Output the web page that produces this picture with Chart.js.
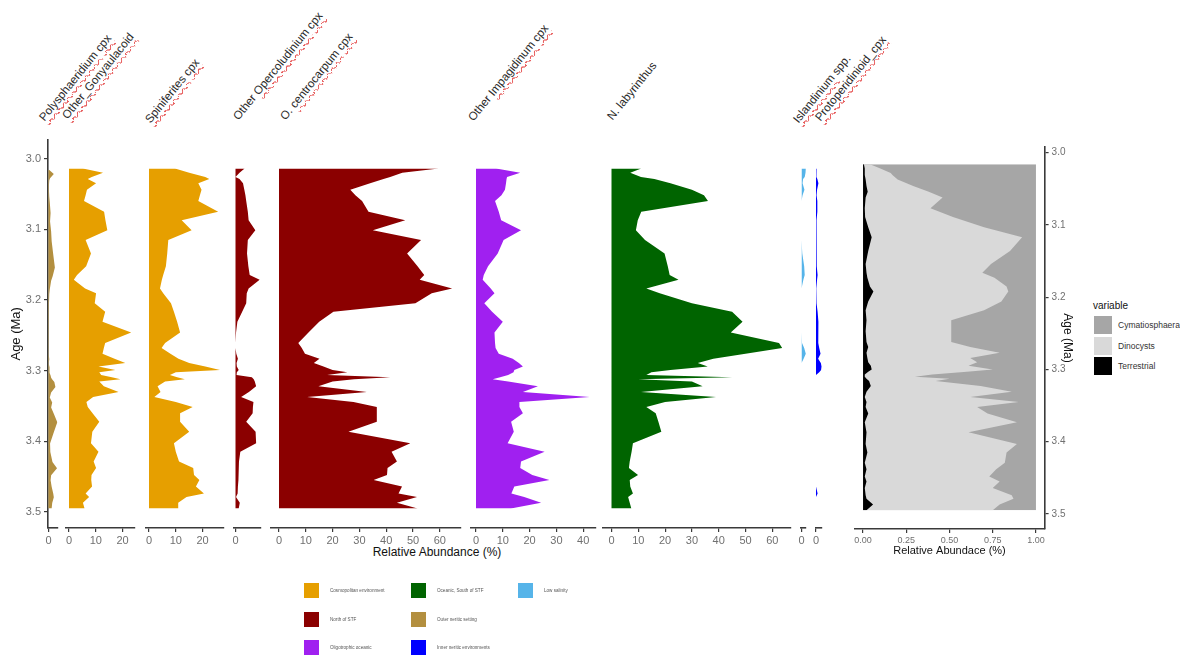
<!DOCTYPE html>
<html>
<head>
<meta charset="utf-8">
<title>Dinocyst assemblages</title>
<script src="https://cdn.jsdelivr.net/npm/chart.js@4.4.1/dist/chart.umd.min.js"></script>
<style>
  body { margin: 0; background: #fff; font-family: "Liberation Sans", Arial, sans-serif; }
  #page { position: relative; width: 1180px; height: 660px; overflow: hidden; }
  #page canvas { position: absolute; }
  .tax { position: absolute; white-space: nowrap; font-size: 11.6px; line-height: 13px; height: 13px; color: #2a2a2a;
         transform-origin: 0 100%; transform: rotate(-51deg); }
  .sp { text-decoration: underline wavy #e23b3b; text-decoration-thickness: 1px; text-underline-offset: 2px; }
  .lbl { position: absolute; white-space: nowrap; color: #111; }
  .key { position: absolute; }
</style>
</head>
<body>
<div id="page">
  <!-- titres des taxons, inclinés -->
  <div class="tax" style="left:46px;top:110px"><span class="sp">Polysphaeridium</span> <span class="sp">cpx</span></div>
  <div class="tax" style="left:69px;top:108px"><span class="sp">Other_Gonyaulacoid</span></div>
  <div class="tax" style="left:152px;top:112px"><span class="sp">Spiniferites</span> <span class="sp">cpx</span></div>
  <div class="tax" style="left:240px;top:109px">Other <span class="sp">Opercoludinium</span> <span class="sp">cpx</span></div>
  <div class="tax" style="left:287px;top:109px">O. <span class="sp">centrocarpum</span> <span class="sp">cpx</span></div>
  <div class="tax" style="left:475px;top:110px">Other <span class="sp">Impagidinum</span> <span class="sp">cpx</span></div>
  <div class="tax" style="left:614px;top:109px">N. labyrinthus</div>
  <div class="tax" style="left:800px;top:112px"><span class="sp">Islandinium</span> spp.</div>
  <div class="tax" style="left:822px;top:110px"><span class="sp">Protoperidinioid_cpx</span></div>

  <div class="lbl" style="left:437px;top:545px;font-size:12px;transform:translateX(-50%)">Relative Abundance (%)</div>
  <div class="lbl" style="left:1093px;top:300px;font-size:10px">variable</div>
</div>

<script>
// Ages des échantillons (Ma)
const ages = [3.016, 3.022, 3.028, 3.031, 3.037, 3.046, 3.054, 3.062, 3.077, 3.089,
  3.103, 3.117, 3.136, 3.154, 3.166, 3.173, 3.185, 3.192, 3.206, 3.218,
  3.232, 3.247, 3.262, 3.269, 3.277, 3.284, 3.290, 3.295, 3.300, 3.303,
  3.307, 3.310, 3.313, 3.316, 3.323, 3.331, 3.338, 3.345, 3.352, 3.361,
  3.373, 3.387, 3.403, 3.415, 3.429, 3.438, 3.448, 3.455, 3.464, 3.474,
  3.479, 3.487, 3.495];

// Abondances relatives (%) par taxon
const polysphaeridium = [0.2, 2.0, 0.6, 0.3, 0.2, 0.2, 0.3, 0.5, 0.8, 0.6,
  1.0, 1.2, 1.8, 2.4, 1.6, 1.0, 0.5, 0.3, 0.2, 0.1,
  0.1, 0.1, 0.1, 0.2, 0.1, 0.3, 0.1, 0.4, 0.3, 0.5,
  0.8, 1.0, 1.5, 2.2, 2.6, 1.0, 0.5, 1.4, 1.0, 2.0,
  3.3, 2.0, 0.6, 0.7, 1.5, 3.2, 1.0, 0.8, 1.2, 1.8,
  2.0, 1.4, 1.2];
const gonyaulacoid = [5.2, 12.7, 8.5, 7.0, 10.1, 6.7, 6.2, 5.6, 13.1, 13.6,
  14.3, 6.2, 8.2, 6.4, 3.0, 1.8, 6.0, 10.1, 9.6, 13.5,
  12.5, 23.2, 13.5, 13.0, 12.5, 17.0, 21.0, 11.0, 17.3, 11.3,
  12.0, 16.0, 19.2, 11.3, 13.0, 18.5, 9.0, 6.5, 7.0, 8.8,
  11.3, 8.7, 8.2, 11.0, 9.2, 10.1, 8.4, 8.3, 8.6, 6.2,
  7.5, 5.2, 5.8];
const spiniferites = [9.7, 15.0, 21.0, 22.5, 18.4, 19.6, 19.0, 18.4, 25.8, 12.2,
  15.9, 7.2, 6.8, 6.3, 5.3, 4.8, 4.1, 5.3, 8.2, 9.3,
  10.5, 11.6, 6.0, 4.7, 8.0, 11.0, 15.0, 21.0, 26.5, 10.0,
  7.8, 10.5, 13.4, 6.0, 3.2, 4.3, 2.0, 10.0, 16.3, 11.6,
  11.6, 15.0, 9.3, 10.0, 11.2, 16.5, 16.8, 18.8, 17.5, 20.5,
  14.0, 10.9, 10.9];
const operculodinium = [3.4, 1.5, 0.0, 1.5, 2.8, 3.3, 3.7, 4.0, 4.6, 4.9,
  7.4, 4.6, 4.3, 4.8, 5.3, 9.0, 4.9, 4.2, 4.0, 2.5,
  0.7, 0.2, 0.0, 0.0, 0.3, 0.9, 0.4, 0.5, 1.2, 0.5,
  0.4, 6.1, 6.8, 7.2, 7.7, 5.0, 2.1, 6.7, 6.5, 6.4,
  4.0, 7.5, 7.7, 1.8, 1.3, 1.2, 1.1, 1.0, 0.9, 0.8,
  0.2, 1.6, 1.2];
const centrocarpum = [59.6, 46.0, 41.5, 39.0, 34.0, 26.6, 28.5, 31.0, 33.4, 47.1,
  35.0, 53.0, 47.8, 51.7, 54.2, 52.5, 64.6, 57.0, 50.9, 20.3,
  15.0, 11.0, 7.2, 8.5, 9.7, 15.1, 13.0, 16.6, 20.0, 25.5,
  18.0, 41.5, 28.0, 20.0, 14.7, 32.8, 10.5, 27.8, 36.5, 36.5,
  36.5, 25.9, 49.0, 42.0, 44.0, 40.5, 40.3, 35.3, 45.9, 44.6,
  51.5, 44.0, 51.7];
const impagidinum = [7.5, 16.5, 11.6, 11.4, 11.2, 10.8, 9.5, 7.1, 8.5, 9.4,
  16.8, 10.3, 8.1, 4.5, 2.9, 2.5, 5.5, 6.9, 3.1, 6.0,
  10.0, 6.9, 7.1, 7.3, 8.5, 13.7, 16.0, 17.5, 14.3, 14.0,
  12.0, 9.0, 6.2, 12.0, 23.1, 17.5, 42.4, 16.2, 16.2, 17.5,
  13.1, 14.1, 11.8, 25.6, 16.8, 16.5, 21.0, 27.4, 14.3, 13.2,
  18.0, 24.3, 13.0];
const labyrinthus = [11.1, 7.0, 11.0, 16.0, 22.0, 30.0, 34.5, 36.0, 11.1, 9.8,
  9.1, 12.5, 19.8, 21.0, 21.7, 25.0, 13.0, 18.0, 30.0, 45.0,
  48.9, 44.5, 62.5, 63.7, 50.0, 38.0, 32.2, 35.9, 22.0, 14.9,
  13.0, 45.0, 9.9, 30.0, 34.0, 11.0, 39.0, 20.0, 13.0, 16.5,
  17.5, 18.6, 8.0, 7.5, 6.8, 6.5, 9.9, 6.8, 7.0, 8.0,
  6.2, 6.8, 7.4];
const islandinium = [1.6, 1.5, 1.2, 0.6, 0.4, 1.1, 0.4, 0, 0, 0,
  0, 0, 0.3, 1.0, 1.2, 0.7, 0, 0, 0, 0,
  0, 0, 0.2, 1.0, 1.6, 0.8, 0, 0, 0, 0,
  0, 0, 0, 0, 0, 0, 0, 0, 0, 0,
  0, 0, 0, 0, 0, 0, 0, 0, 0, 0,
  0, 0, 0];
const protoperidinioid = [0.2, 0.1, 0.2, 0.5, 0.9, 0.4, 0.2, 0.5, 0.5, 0.2,
  0.2, 0.3, 0.3, 0.3, 0.6, 0.4, 0.1, 0.1, 0.3, 0.6,
  0.9, 0.8, 0.9, 1.2, 1.7, 0.8, 1.8, 2.1, 1.9, 1.2,
  0, 0, 0, 0, 0, 0, 0, 0, 0, 0,
  0, 0, 0, 0, 0, 0, 0, 0, 0, 0.6,
  0, 0, 0];

// Proportions du panneau de droite
const terrestrial = [0.005, 0.01, 0.01, 0.01, 0.015, 0.02, 0.027, 0.015, 0.01, 0.012,
  0.03, 0.05, 0.03, 0.015, 0.02, 0.025, 0.04, 0.06, 0.03, 0.015,
  0.02, 0.015, 0.02, 0.03, 0.02, 0.025, 0.03, 0.045, 0.05, 0.03,
  0.01, 0.01, 0.02, 0.035, 0.045, 0.02, 0.01, 0.02, 0.015, 0.03,
  0.01, 0.02, 0.015, 0.025, 0.01, 0.02, 0.01, 0.02, 0.01, 0.015,
  0.02, 0.058, 0.02];
const dinocysts = [0.035, 0.09, 0.15, 0.16, 0.185, 0.27, 0.353, 0.445, 0.38, 0.508,
  0.67, 0.87, 0.82, 0.725, 0.67, 0.735, 0.79, 0.78, 0.77, 0.685,
  0.49, 0.495, 0.49, 0.59, 0.77, 0.595, 0.63, 0.565, 0.70, 0.57,
  0.39, 0.29, 0.48, 0.385, 0.635, 0.84, 0.61, 0.88, 0.645, 0.69,
  0.88, 0.59, 0.875, 0.805, 0.81, 0.75, 0.72, 0.77, 0.74, 0.845,
  0.85, 0.732, 0.73];
const cymatiosphaera = [0.96, 0.90, 0.84, 0.83, 0.80, 0.71, 0.62, 0.54, 0.61, 0.48,
  0.30, 0.08, 0.15, 0.26, 0.31, 0.24, 0.17, 0.16, 0.20, 0.30,
  0.49, 0.49, 0.49, 0.38, 0.21, 0.38, 0.34, 0.39, 0.25, 0.40,
  0.60, 0.70, 0.50, 0.58, 0.32, 0.14, 0.38, 0.10, 0.34, 0.28,
  0.11, 0.39, 0.11, 0.17, 0.18, 0.23, 0.27, 0.21, 0.25, 0.14,
  0.13, 0.21, 0.25];

// Graduations
const pctTicks = [0, 10, 20, 30, 40, 50, 60];
const ageTicks = [3.0, 3.1, 3.2, 3.3, 3.4, 3.5];
const fracTicks = [0, 0.25, 0.5, 0.75, 1];

// Légendes
const groupNames = ['Cosmopolitan environment', 'North of STF', 'Oligotrophic oceanic',
  'Oceanic, South of STF', 'Outer neritic setting', 'Inner neritic environments', 'Low salinity'];
const fillNames = ['Cymatiosphaera', 'Dinocysts', 'Terrestrial'];

// ---- mise en page ----
const page = document.getElementById('page');
const AXIS = '#3a3a3a', TICK = '#707070';
const PXU = 2.68;                 // pixels par 1 %
const TOP = 138, BOT = 528;       // zone de tracé des panneaux de gauche
const CAN_TOP = 130;
const AGE_MIN = 2.9732, AGE_MAX = 3.5225;
const COLORS = {
  cosmo: '#E69F00', north: '#8B0000', oligo: '#A020F0', ocean: '#006400',
  outer: '#B38F3F', inner: '#0000FF', lowsal: '#56B4E9'
};

Chart.defaults.font.family = '"Liberation Sans", Arial, sans-serif';

function addCanvas(left, top, w, h) {
  const cv = document.createElement('canvas');
  cv.width = w; cv.height = h;
  cv.style.left = left + 'px'; cv.style.top = top + 'px';
  cv.style.width = w + 'px'; cv.style.height = h + 'px';
  page.appendChild(cv);
  return cv;
}

const baseOpts = {
  indexAxis: 'y', responsive: false, animation: false, devicePixelRatio: 1,
  plugins: { legend: { display: false }, tooltip: { enabled: false } },
  elements: { point: { radius: 0, hoverRadius: 0 }, line: { tension: 0 } }
};

const panels = [
  { values: polysphaeridium, color: COLORS.outer, zero: 48.45 },
  { values: gonyaulacoid, color: COLORS.cosmo, zero: 69 },
  { values: spiniferites, color: COLORS.cosmo, zero: 149 },
  { values: operculodinium, color: COLORS.north, zero: 235.5 },
  { values: centrocarpum, color: COLORS.north, zero: 279 },
  { values: impagidinum, color: COLORS.oligo, zero: 476 },
  { values: labyrinthus, color: COLORS.ocean, zero: 611.5 },
  { values: islandinium, color: COLORS.lowsal, zero: 801.5 },
  { values: protoperidinioid, color: COLORS.inner, zero: 816 }
];

function makePanel(p, first) {
  const peak = Math.max(...p.values);
  const lo = -0.05 * peak, hi = 1.05 * peak;
  const areaL = p.zero + lo * PXU;
  const areaW = (hi - lo) * PXU;
  const left = first ? 0 : Math.floor(areaL - 16);
  const width = Math.ceil(areaL - left + areaW + 16);
  const height = (TOP - CAN_TOP) + (BOT - TOP) + 30;
  const cv = addCanvas(left, CAN_TOP, width, height);
  const yAxis = {
    type: 'linear', reverse: true, min: AGE_MIN, max: AGE_MAX, display: first, position: 'left'
  };
  if (first) {
    Object.assign(yAxis, {
      afterFit: s => { s.width = areaL; },
      afterBuildTicks: s => { s.ticks = ageTicks.map(v => ({ value: v })); },
      grid: { drawOnChartArea: false, tickLength: 4, color: AXIS, lineWidth: 1.2 },
      border: { color: AXIS, width: 1.6 },
      ticks: { color: TICK, font: { size: 11 }, padding: 3, callback: v => v.toFixed(1) },
      title: { display: true, text: 'Age (Ma)', color: '#111', font: { size: 13 }, padding: { top: 9 } }
    });
  }
  new Chart(cv, {
    type: 'line',
    data: {
      datasets: [{
        data: ages.map((a, k) => ({ x: p.values[k], y: a })),
        backgroundColor: p.color, borderWidth: 0, fill: 'origin'
      }]
    },
    options: {
      ...baseOpts,
      layout: { padding: { left: first ? 0 : areaL - left, right: width - (areaL - left) - areaW, top: TOP - CAN_TOP, bottom: 0 } },
      scales: {
        x: {
          type: 'linear', min: lo, max: hi,
          afterFit: s => { s.height = 30; },
          afterBuildTicks: s => { s.ticks = pctTicks.filter(v => v >= lo && v <= hi).map(v => ({ value: v })); },
          grid: { drawOnChartArea: false, tickLength: 4, color: AXIS, lineWidth: 1.2 },
          border: { color: AXIS, width: 1.6 },
          ticks: { color: TICK, font: { size: 11 }, padding: 2, maxRotation: 0, autoSkip: false, callback: v => String(v) }
        },
        y: yAxis
      }
    }
  });
}

panels.forEach((p, i) => makePanel(p, i === 0));

// ---- panneau de droite : proportions empilées ----
const R_TOP = 147, R_BOT = 529, R_L = 854.4, R_R = 1044.6;
const R_AGE_MIN = 2.9921, R_AGE_MAX = 3.5208;
const totals = ages.map((a, k) => terrestrial[k] + dinocysts[k] + cymatiosphaera[k]);
const share = arr => ages.map((a, k) => ({ x: arr[k] / totals[k], y: a }));

(function () {
  const left = 830, top = 135, axisW = 30;
  const width = Math.ceil(R_R - left + axisW + 4);
  const height = (R_TOP - top) + (R_BOT - R_TOP) + 30;
  const cv = addCanvas(left, top, width, height);
  new Chart(cv, {
    type: 'line',
    data: {
      datasets: [
        { label: 'Terrestrial', data: share(terrestrial), backgroundColor: '#000000', borderWidth: 0, fill: 'origin' },
        { label: 'Dinocysts', data: share(dinocysts), backgroundColor: '#D9D9D9', borderWidth: 0, fill: 'origin' },
        { label: 'Cymatiosphaera', data: share(cymatiosphaera), backgroundColor: '#A6A6A6', borderWidth: 0, fill: 'origin' }
      ]
    },
    options: {
      ...baseOpts,
      layout: { padding: { left: R_L - left, right: width - (R_R - left) - axisW, top: R_TOP - top, bottom: 0 } },
      scales: {
        x: {
          type: 'linear', min: -0.05, max: 1.05, stacked: true,
          afterFit: s => { s.height = 30; },
          afterBuildTicks: s => { s.ticks = fracTicks.map(v => ({ value: v })); },
          grid: { drawOnChartArea: false, tickLength: 4, color: AXIS, lineWidth: 1.2 },
          border: { color: AXIS, width: 1.6 },
          ticks: { color: TICK, font: { size: 9 }, padding: 2, maxRotation: 0, autoSkip: false, callback: v => v.toFixed(2) },
          title: { display: true, text: 'Relative Abundace (%)', color: '#111', font: { size: 11 }, padding: { top: 0, bottom: 1.4 } }
        },
        y: {
          type: 'linear', position: 'right', reverse: true, min: R_AGE_MIN, max: R_AGE_MAX,
          afterFit: s => { s.width = axisW; },
          afterBuildTicks: s => { s.ticks = ageTicks.map(v => ({ value: v })); },
          grid: { drawOnChartArea: false, tickLength: 4, color: AXIS, lineWidth: 1.2 },
          border: { color: AXIS, width: 1.6 },
          ticks: { color: TICK, font: { size: 10 }, padding: 3, callback: v => v.toFixed(1) },
          title: { display: true, text: 'Age (Ma)', color: '#111', font: { size: 12 }, padding: { top: 0 } }
        }
      }
    }
  });
})();

// ---- légendes HTML ----
const groupColors = [COLORS.cosmo, COLORS.north, COLORS.oligo, COLORS.ocean, COLORS.outer, COLORS.inner, COLORS.lowsal];
groupNames.forEach((name, i) => {
  const col = Math.floor(i / 3), row = i % 3;
  const x = 304 + col * 107, y = 583 + row * 28.5;
  const sq = document.createElement('div');
  sq.className = 'key';
  sq.style.cssText = `left:${x}px;top:${y}px;width:15px;height:15px;background:${groupColors[i]}`;
  page.appendChild(sq);
  const t = document.createElement('div');
  t.className = 'lbl';
  t.style.cssText = `left:${x + 26}px;top:${y + 5}px;font-size:4.6px;color:#555`;
  t.textContent = name;
  page.appendChild(t);
});

const fillColors = ['#A6A6A6', '#D9D9D9', '#000000'];
fillNames.forEach((name, i) => {
  const y = 316 + i * 20.5;
  const sq = document.createElement('div');
  sq.className = 'key';
  sq.style.cssText = `left:1094px;top:${y}px;width:18px;height:18px;background:${fillColors[i]}`;
  page.appendChild(sq);
  const t = document.createElement('div');
  t.className = 'lbl';
  t.style.cssText = `left:1118px;top:${y + 4}px;font-size:8.5px;color:#333`;
  t.textContent = name;
  page.appendChild(t);
});
</script>
</body>
</html>
